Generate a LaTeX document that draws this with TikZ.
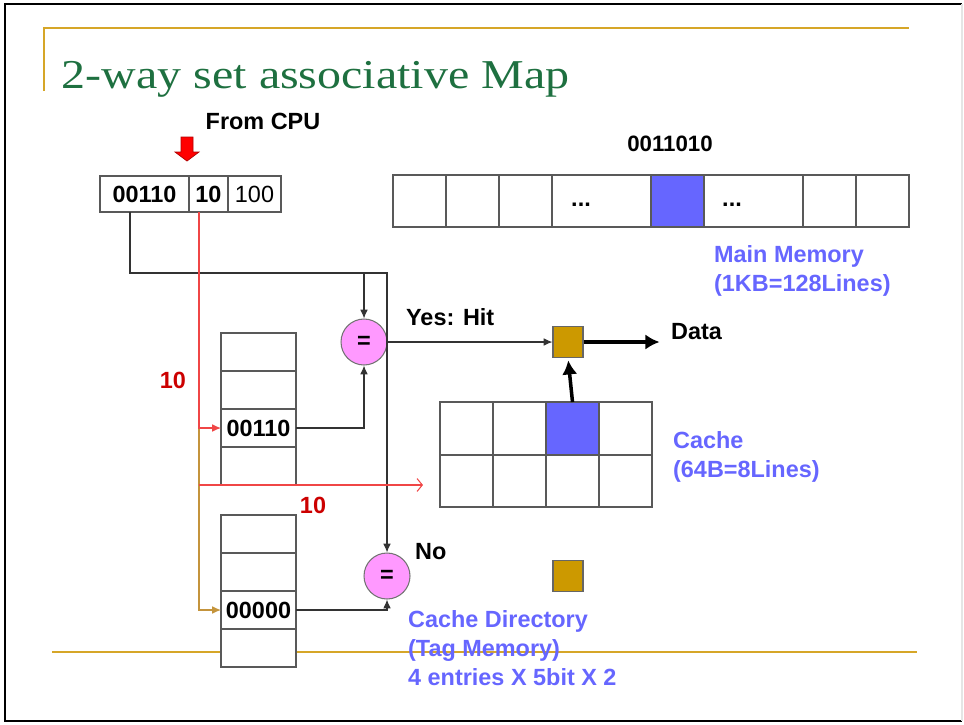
\documentclass[tikz,border=0pt]{standalone}
\usepackage{fontspec}
\setsansfont{Liberation Sans}
\newfontfamily\titlefont{Liberation Serif}
\usetikzlibrary{arrows.meta, calc, positioning}

\definecolor{titlegreen}{RGB}{30,112,64}
\definecolor{rulegold}{RGB}{214,166,40}
\definecolor{latchgold}{RGB}{204,153,0}
\definecolor{wiregold}{RGB}{196,148,60}
\definecolor{memblue}{RGB}{102,102,255}
\definecolor{cmppink}{RGB}{255,153,255}
\definecolor{setred}{RGB}{204,0,0}
\definecolor{wirered}{RGB}{240,70,70}

\newcommand{\unitpx}{0.03cm}

\tikzset{
	every node/.style={
		font=\sffamily\bfseries\fontsize{20}{25}\selectfont
	},
	cell/.style={
		shape=rectangle,
		draw=black!65,
		fill=white,
		inner sep=0pt,
		outer sep=0pt,
		line width=0.9pt,
		minimum width=53*\unitpx,
		minimum height=38*\unitpx
	},
	hot/.style={
		cell,
		fill=memblue
	},
	cmp/.style={
		shape=circle,
		draw=black!55,
		fill=cmppink,
		line width=0.9pt,
		inner sep=0pt,
		minimum size=46*\unitpx
	},
	latch/.style={
		shape=rectangle,
		draw=black!60,
		fill=latchgold,
		line width=0.9pt,
		inner sep=0pt,
		minimum width=30*\unitpx,
		minimum height=31*\unitpx
	},
	note/.style={
		text=memblue,
		align=left,
		anchor=west
	},
	wire/.style={
		draw=black!80,
		line width=0.9pt,
		-{Latex[length=7.5pt,width=6.5pt]}
	},
	fatwire/.style={
		draw=black,
		line width=3pt,
		-{Latex[length=12pt,width=13pt]}
	},
	setwire/.style={
		draw=wirered,
		line width=0.9pt
	}
}

\begin{document}
\begin{tikzpicture}[x=\unitpx, y=-\unitpx]
  \useasboundingbox (0,0) rectangle (964,724);

  % slide frame and rules
  \draw[line width=2pt] (962,4) -- (5,4) -- (5,721) -- (962,721);
  \draw[black!10, line width=1pt] (962,4) -- (962,721);
  \draw[rulegold, line width=2.2pt] (44,91) -- (44,28) -- (909,28);
  \draw[rulegold, line width=2.2pt] (52,652) -- (917,652);

  \node[anchor=base west, text=titlegreen, font=\titlefont\fontsize{35}{40}\selectfont, xscale=1.17] (title) at (57,88) {2-way set associative Map};

  % address coming from the CPU
  \node (cpu) at (263,121) {From CPU};
  \filldraw[fill=red, draw=red!70!black, line width=0.6pt]
    (181,137) -- (193,137) -- (193,152) -- (199,152) -- (187,161) -- (175,152) -- (181,152) -- cycle;

  \node[cell, minimum width=89*\unitpx, minimum height=36*\unitpx] (tag) at (144.5,194) {00110};
  \node[cell, minimum width=39*\unitpx, minimum height=36*\unitpx, right=0pt of tag] (set) {10};
  \node[cell, minimum width=53*\unitpx, minimum height=36*\unitpx, right=0pt of set,
        font=\sffamily\fontsize{20}{25}\selectfont] (word) {100};

  % main memory
  \node[font=\sffamily\bfseries\fontsize{19}{22}\selectfont] (addr) at (670,144) {0011010};
  \node[cell, minimum height=52*\unitpx] (mem1) at (419.5,201) {};
  \node[cell, minimum height=52*\unitpx, right=0pt of mem1] (mem2) {};
  \node[cell, minimum height=52*\unitpx, right=0pt of mem2] (mem3) {};
  \node[cell, minimum height=52*\unitpx, minimum width=99*\unitpx, right=0pt of mem3] (mem4) {};
  \node[hot, minimum height=52*\unitpx, right=0pt of mem4] (mem5) {};
  \node[cell, minimum height=52*\unitpx, minimum width=99*\unitpx, right=0pt of mem5] (mem6) {};
  \node[cell, minimum height=52*\unitpx, right=0pt of mem6] (mem7) {};
  \node[cell, minimum height=52*\unitpx, right=0pt of mem7] (mem8) {};
  \node (dotsA) at (581,205) {...};
  \node (dotsB) at (732,205) {...};
  \node[note] (memnote) at (710,271) {Main Memory\\(1KB=128Lines)};

  % tag memory, way 0 and way 1
  \node[cell, minimum width=75*\unitpx] (tagA1) at (258.5,352) {};
  \node[cell, minimum width=75*\unitpx, below=0pt of tagA1] (tagA2) {};
  \node[cell, minimum width=75*\unitpx, below=0pt of tagA2] (tagA3) {00110};
  \node[cell, minimum width=75*\unitpx, below=0pt of tagA3] (tagA4) {};
  \node[cell, minimum width=75*\unitpx] (tagB1) at (258.5,534) {};
  \node[cell, minimum width=75*\unitpx, below=0pt of tagB1] (tagB2) {};
  \node[cell, minimum width=75*\unitpx, below=0pt of tagB2] (tagB3) {00000};
  \node[cell, minimum width=75*\unitpx, below=0pt of tagB3] (tagB4) {};

  % comparators and output latches
  \node[cmp] (eqhit) at (364,342) {=};
  \node[cmp] (eqmiss) at (387,576) {=};
  \node[latch] (dataout) at (568,342) {};
  \node[latch] (latchmiss) at (568,576) {};

  % cache lines
  \node[cell, minimum height=53*\unitpx] (cache11) at (466.5,428.5) {};
  \node[cell, minimum height=53*\unitpx, right=0pt of cache11] (cache12) {};
  \node[hot, minimum height=53*\unitpx, right=0pt of cache12] (cache13) {};
  \node[cell, minimum height=53*\unitpx, right=0pt of cache13] (cache14) {};
  \node[cell, minimum height=52*\unitpx, below=0pt of cache11] (cache21) {};
  \node[cell, minimum height=52*\unitpx, right=0pt of cache21] (cache22) {};
  \node[cell, minimum height=52*\unitpx, right=0pt of cache22] (cache23) {};
  \node[cell, minimum height=52*\unitpx, right=0pt of cache23] (cache24) {};
  \node[note] (cachenote) at (669,457) {Cache\\(64B=8Lines)};

  % tag bits to both comparators
  \draw[wire] ([xshift=-14.5*\unitpx]tag.south) -- ++(0,61) coordinate (bus) -| (eqmiss.north);
  \draw[wire] (bus -| eqhit.north) -- (eqhit.north);
  \draw[wire] (tagA3.east) -| (eqhit.south);
  \draw[wire] (tagB3.east) -| (eqmiss.south);

  % set bits select the row
  \coordinate (setline) at ([xshift=-9.5*\unitpx]set.south);
  \draw[wire, color=wiregold] (setline |- tagA3.west) |- (tagB3.west);
  \draw[setwire, -{Latex[length=7.5pt,width=6.5pt]}] (setline) |- (tagA3.west);
  \draw[setwire, -{Straight Barb[length=4.5pt,width=11pt]}] (setline |- tagA4.south) -- ++(224,0);
  \node[text=setred] (setA) at (173,380) {10};
  \node[text=setred] (setB) at (313,505) {10};

  % hit path
  \draw[wire] (eqhit.east) -- (dataout.west);
  \draw[fatwire, shorten >=2pt] (cache13.north) -- (dataout.south);
  \draw[fatwire] (dataout.east) -- ++(76,0);
  \node[anchor=west] (hit) at (402,317) {Yes: Hit};
  \node[anchor=west] (data) at (667,332) {Data};
  \node[anchor=west] (miss) at (411,552) {No};

  \node[note] (dirnote) at (404,648) {Cache Directory\\(Tag Memory)\\4 entries X 5bit X 2};
\end{tikzpicture}
\end{document}
